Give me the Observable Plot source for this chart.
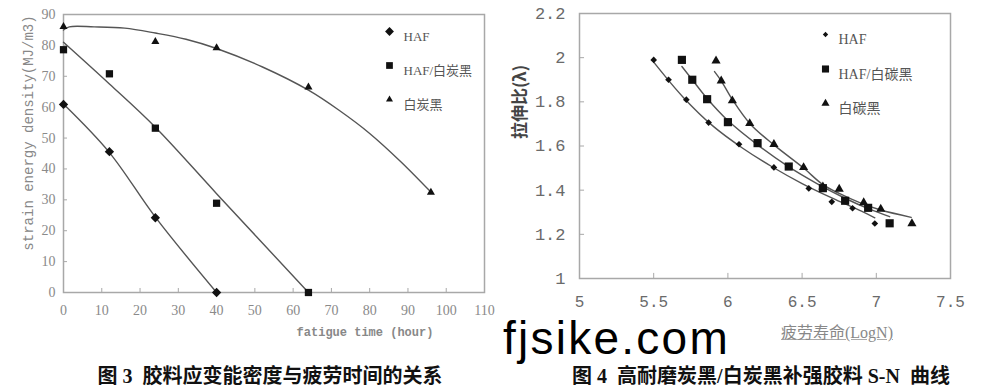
<!DOCTYPE html>
<html><head><meta charset="utf-8">
<script src="https://cdn.jsdelivr.net/npm/d3@7"></script>
<script src="https://cdn.jsdelivr.net/npm/@observablehq/plot@0.6"></script>
<style>
body{margin:0;background:#fff;}
#wrap{position:relative;width:1003px;height:387px;overflow:hidden;background:#fff;}
.abs{position:absolute;white-space:nowrap;}
.cap{font-family:"Liberation Serif","Noto Sans CJK SC",serif;font-weight:bold;font-size:20px;line-height:22px;color:#111;transform:translateX(-50%);}
</style></head><body>
<div id="wrap">
<div id="c1" class="abs" style="left:0;top:0"></div>
<div id="c2" class="abs" style="left:500px;top:0"></div>
<div class="abs" style="left:29px;top:133px;transform:translate(-50%,-50%) rotate(-90deg);font-family:'Liberation Mono',monospace;font-size:14px;color:#888;">strain energy density(MJ/m3)</div>
<div class="abs" style="left:365px;top:326px;transform:translateX(-50%);font-family:'Liberation Mono',monospace;font-size:12px;font-weight:bold;color:#888;">fatigue time (hour)</div>
<div class="abs" style="left:518px;top:102px;transform:translate(-50%,-50%) rotate(-90deg);font-family:'Noto Sans CJK SC',sans-serif;font-size:17px;font-weight:bold;color:#444;">拉伸比(λ)</div>
<div class="abs" style="left:837px;top:323px;transform:translateX(-50%);font-family:'Liberation Serif','Noto Sans CJK SC',serif;font-size:16px;line-height:20px;color:#888;text-decoration:underline;text-decoration-color:#aaa;">疲劳寿命(LogN)</div>
<div class="abs" style="left:503px;top:320.5px;font-family:'Liberation Sans',Arial,sans-serif;font-size:46px;letter-spacing:2.25px;line-height:35px;color:#000;">fjsike.com</div>
<div class="abs cap" style="left:270px;top:364.5px;">图 3&nbsp;&nbsp;胶料应变能密度与疲劳时间的关系</div>
<div class="abs cap" style="left:761px;top:364.5px;">图 4&nbsp;&nbsp;高耐磨炭黑/白炭黑补强胶料 S-N&nbsp;&nbsp;曲线</div>
</div>
<script>
// ---------- Figure 3 data ----------
const fig3Series = ["HAF", "HAF/白炭黑", "白炭黑"];
const fig3XTicks = [0, 10, 20, 30, 40, 50, 60, 70, 80, 90, 100, 110];
const fig3YTicks = [0, 10, 20, 30, 40, 50, 60, 70, 80, 90];
const hafTime = [0, 12, 24, 40];
const hafEnergy = [60.9, 45.6, 24.2, 0];
const mixTime = [0, 12, 24, 40, 64];
const mixEnergy = [78.6, 70.8, 53.2, 28.9, 0];
const silTime = [0, 24, 40, 64, 96];
const silEnergy = [86.1, 81.2, 79.2, 66.5, 32.4];
// trend curves
const hafFitTime = [0, 12, 24, 40];
const hafFitEnergy = [61, 45.3, 24.4, 0];
const mixFitTime = [0, 12, 24, 40, 64];
const mixFitEnergy = [81, 67.5, 53.5, 32, 0];
const silFitTime = [0, 1.5, 8, 16, 24, 32, 40, 52, 64, 72, 80, 88, 96];
const silFitEnergy = [85, 86, 86, 85.6, 84, 82, 79, 73, 65.5, 59, 51.5, 42.5, 32.5];

// ---------- Figure 4 data ----------
const fig4Series = ["HAF", "HAF/白碳黑", "白碳黑"];
const fig4XTicks = [5, 5.5, 6, 6.5, 7, 7.5];
const fig4YTicks = [1, 1.2, 1.4, 1.6, 1.8, 2, 2.2];
const hafLogN = [5.5, 5.6, 5.72, 5.87, 6.075, 6.31, 6.545, 6.7, 6.84, 6.99];
const hafRatio = [1.99, 1.90, 1.81, 1.706, 1.608, 1.503, 1.408, 1.347, 1.318, 1.249];
const mixLogN = [5.69, 5.76, 5.86, 6.0, 6.2, 6.41, 6.64, 6.79, 6.945, 7.09];
const mixRatio = [1.99, 1.90, 1.812, 1.708, 1.613, 1.507, 1.409, 1.352, 1.32, 1.25];
const silLogN = [5.92, 5.955, 6.03, 6.147, 6.31, 6.51, 6.64, 6.75, 6.915, 7.03, 7.24];
const silRatio = [1.986, 1.895, 1.805, 1.702, 1.608, 1.503, 1.415, 1.405, 1.344, 1.314, 1.249];
const hafFitLogN = [5.5, 5.7, 5.9, 6.1, 6.3, 6.5, 6.7, 6.9, 6.99];
const hafFitRatio = [1.98, 1.82, 1.69, 1.59, 1.505, 1.43, 1.365, 1.305, 1.275];
const mixFitLogN = [5.69, 5.76, 5.86, 6.0, 6.2, 6.4, 6.6, 6.8, 6.95, 7.09];
const mixFitRatio = [1.96, 1.90, 1.815, 1.715, 1.605, 1.51, 1.43, 1.36, 1.315, 1.28];
const silFitLogN = [5.91, 5.955, 6.03, 6.15, 6.31, 6.51, 6.64, 6.75, 6.9, 7.03, 7.235];
const silFitRatio = [1.937, 1.895, 1.81, 1.70, 1.605, 1.50, 1.425, 1.385, 1.34, 1.31, 1.277];

const pts = (xs, ys) => xs.map((x, i) => ({x, y: ys[i]}));
const symbols = ["diamond2", "square", "triangle"];
const legendFont = "'Liberation Serif','Noto Sans CJK SC',serif";

// ---------- Figure 3 ----------
const fig3Dots = [[hafTime, hafEnergy, 4.2], [mixTime, mixEnergy, 4.1], [silTime, silEnergy, 3]];
const fig3Fits = [[hafFitTime, hafFitEnergy], [mixFitTime, mixFitEnergy], [silFitTime, silFitEnergy]];
const fig3LegendR = [4, 3.8, 2.6];
const p1 = Plot.plot({
  width: 500, height: 340,
  marginLeft: 63, marginRight: 16, marginTop: 14, marginBottom: 48,
  x: {domain: [0, 110]},
  y: {domain: [0, 90]},
  style: {fontFamily: "'Liberation Serif', serif", fontSize: "14px", color: "#8a8a8a", background: "transparent"},
  marks: [
    Plot.frame({stroke: "#a8a8a8", strokeWidth: 1.5}),
    Plot.axisX(fig3XTicks, {tickSize: 0, tickPadding: 13, label: null}),
    Plot.axisY(fig3YTicks, {tickSize: 0, tickPadding: 8, label: null}),
    Plot.ruleX(fig3XTicks.slice(1, -1), {x: d => d, y1: 0, y2: 1.3, stroke: "#a8a8a8"}),
    Plot.ruleY(fig3YTicks.slice(1, -1), {y: d => d, x1: 0, x2: 1.05, stroke: "#a8a8a8"}),
    ...fig3Fits.map(([xs, ys]) => Plot.line(pts(xs, ys), {x: "x", y: "y", curve: "catmull-rom", stroke: "#555", strokeWidth: 1.4})),
    ...fig3Dots.map(([xs, ys, r], i) => Plot.dot(pts(xs, ys), {x: "x", y: "y", symbol: () => symbols[i], r, fill: "#111"})),
    ...fig3Series.map((s, i) => Plot.dot([s], {frameAnchor: "top-left", dx: 326, dy: 17 + 34 * i, symbol: () => symbols[i], r: fig3LegendR[i], fill: "#111"})),
    ...fig3Series.map((s, i) => Plot.text([s], {frameAnchor: "top-left", dx: 340, dy: 17 + 34 * i, text: d => d, textAnchor: "start", fontFamily: legendFont, fontSize: 13, fill: "#555"}))
  ]
});
document.getElementById("c1").appendChild(p1);

// ---------- Figure 4 ----------
const fig4Dots = [[hafLogN, hafRatio, 3], [mixLogN, mixRatio, 4.6], [silLogN, silRatio, 3.4]];
const fig4Fits = [[hafFitLogN, hafFitRatio], [mixFitLogN, mixFitRatio], [silFitLogN, silFitRatio]];
const fig4LegendR = [2.4, 4, 3];
const p2 = Plot.plot({
  width: 503, height: 340,
  marginLeft: 79, marginRight: 53, marginTop: 13, marginBottom: 62,
  x: {domain: [5, 7.5]},
  y: {domain: [1, 2.2]},
  style: {fontFamily: "'Liberation Mono', monospace", fontSize: "17px", color: "#6a6a6a", background: "transparent"},
  marks: [
    Plot.frame({stroke: "#a8a8a8", strokeWidth: 1.5}),
    Plot.axisX(fig4XTicks, {tickSize: 0, tickPadding: 17, fontSize: 16, label: null, tickFormat: d => String(d)}),
    Plot.axisY(fig4YTicks, {tickSize: 0, tickPadding: 14, label: null, tickFormat: d => String(d)}),
    Plot.ruleX(fig4XTicks.slice(1, -1), {x: d => d, y1: 1, y2: 1.023, stroke: "#a8a8a8"}),
    Plot.ruleY(fig4YTicks.slice(1, -1), {y: d => d, x1: 5, x2: 5.034, stroke: "#a8a8a8"}),
    ...fig4Fits.map(([xs, ys]) => Plot.line(pts(xs, ys), {x: "x", y: "y", curve: "catmull-rom", stroke: "#555", strokeWidth: 1.4})),
    ...fig4Dots.map(([xs, ys, r], i) => Plot.dot(pts(xs, ys), {x: "x", y: "y", symbol: () => symbols[i], r, fill: "#111"})),
    ...fig4Series.map((s, i) => Plot.dot([s], {frameAnchor: "top-left", dx: 246, dy: 21 + 34.5 * i, symbol: () => symbols[i], r: fig4LegendR[i], fill: "#111"})),
    ...fig4Series.map((s, i) => Plot.text([s], {frameAnchor: "top-left", dx: 259, dy: 21 + 34.5 * i, text: d => d, textAnchor: "start", fontFamily: legendFont, fontSize: 14, fill: "#555"}))
  ]
});
document.getElementById("c2").appendChild(p2);
</script>
</body></html>
